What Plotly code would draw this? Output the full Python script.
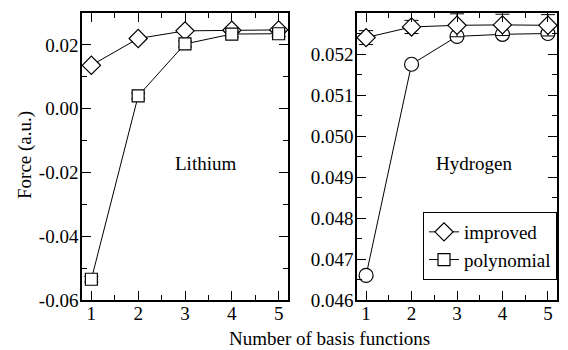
import plotly.graph_objects as go

n_basis = [1, 2, 3, 4, 5]

li_improved = [0.0136, 0.0220, 0.0244, 0.0246, 0.0247]
li_improved_err = [0.0007, 0.0007, 0.0007, 0.0007, 0.0007]
li_poly = [-0.0535, 0.0040, 0.0203, 0.0234, 0.0235]
li_poly_err = [0.0009, 0.0009, 0.0009, 0.0009, 0.0009]

h_improved = [0.05240, 0.05266, 0.05270, 0.05271, 0.05270]
h_improved_err = [0.00017, 0.00016, 0.00028, 0.00026, 0.00026]
h_poly = [0.04660, 0.05175, 0.05243, 0.05248, 0.05250]

font_family = "Liberation Serif"
FS = 19

fig = go.Figure()

def err(arr):
    return dict(type="data", array=arr, visible=True, color="black", thickness=1, width=7)

fig.add_trace(go.Scatter(x=n_basis, y=li_improved, error_y=err(li_improved_err),
                         mode="lines+markers", name="improved",
                         line=dict(color="black", width=1),
                         marker=dict(symbol="diamond", size=14, color="white",
                                     line=dict(color="black", width=1.2)),
                         xaxis="x", yaxis="y", showlegend=True))
fig.add_trace(go.Scatter(x=n_basis, y=li_poly, error_y=err(li_poly_err),
                         mode="lines+markers", name="polynomial",
                         line=dict(color="black", width=1),
                         marker=dict(symbol="square", size=12, color="white",
                                     line=dict(color="black", width=1.2)),
                         xaxis="x", yaxis="y", showlegend=True))
fig.add_trace(go.Scatter(x=n_basis, y=h_poly,
                         mode="lines+markers", name="polynomial",
                         line=dict(color="black", width=1),
                         marker=dict(symbol="circle", size=14, color="white",
                                     line=dict(color="black", width=1.2)),
                         xaxis="x2", yaxis="y2", showlegend=False))
fig.add_trace(go.Scatter(x=n_basis, y=h_improved, error_y=err(h_improved_err),
                         mode="lines+markers", name="improved",
                         line=dict(color="black", width=1),
                         marker=dict(symbol="diamond", size=14, color="white",
                                     line=dict(color="black", width=1.2)),
                         xaxis="x2", yaxis="y2", showlegend=False))

# the page body has an 8px margin, so the figure is sized to fit the window
OFF = 8
W, H = 560, 342

def px(x):
    return (x - OFF) / W

def py(y):
    return 1 - (y - OFF) / H

tickfont = dict(family=font_family, size=FS, color="black")
xcommon = dict(range=[0.8, 5.2], tickvals=[1, 2, 3, 4, 5], ticks="inside", ticklen=9,
               tickwidth=1.2, tickcolor="black", mirror="ticks", showline=True,
               linecolor="black", linewidth=1.5, showgrid=False, zeroline=False,
               automargin=False, tickfont=tickfont, ticklabelstandoff=-5,
               minor=dict(dtick=0.5, ticks="inside", ticklen=5, tickcolor="black", tickwidth=1.2,
                          tick0=0, showgrid=False))
ycommon = dict(ticks="inside", ticklen=9, tickwidth=1.2, tickcolor="black", mirror="ticks",
               showline=True, linecolor="black", linewidth=1.5, showgrid=False, zeroline=False,
               automargin=False, tickfont=tickfont, ticklabelstandoff=-2)

fig.update_layout(
    template="none",
    width=W, height=H, margin=dict(l=0, r=0, t=0, b=0, pad=0, autoexpand=False),
    paper_bgcolor="white", plot_bgcolor="white",
    font=dict(family=font_family, size=FS, color="black"),
    xaxis=dict(domain=[px(82), px(288)], anchor="y", **xcommon),
    yaxis=dict(domain=[py(300), py(13)], anchor="x", range=[-0.06, 0.03],
               tickvals=[-0.06, -0.04, -0.02, 0.0, 0.02],
               ticktext=["-0.06", "-0.04", "-0.02", "0.00", "0.02"],
               minor=dict(dtick=0.01, tick0=0, ticks="inside", ticklen=5, tickcolor="black",
                          tickwidth=1.2, showgrid=False),
               **ycommon),
    xaxis2=dict(domain=[px(357), px(557)], anchor="y2", **xcommon),
    yaxis2=dict(domain=[py(300), py(13)], anchor="x2", range=[0.046, 0.053],
                tickvals=[0.046, 0.047, 0.048, 0.049, 0.050, 0.051, 0.052, 0.053],
                ticktext=["0.046", "0.047", "0.048", "0.049", "0.050", "0.051", "0.052", "0.053"],
                minor=dict(dtick=0.0005, tick0=0.046, ticks="inside", ticklen=5, tickcolor="black",
                           tickwidth=1.2, showgrid=False),
                **ycommon),
    legend=dict(x=px(423), y=py(212), xanchor="left", yanchor="top",
                bgcolor="white", bordercolor="black", borderwidth=1,
                font=dict(family=font_family, size=FS, color="black"),
                itemwidth=30, tracegroupgap=0),
    showlegend=True,
    annotations=[
        dict(text="Lithium", x=px(205), y=py(163), xref="paper", yref="paper",
             xanchor="center", yanchor="middle",
             showarrow=False, font=dict(family=font_family, size=FS)),
        dict(text="Hydrogen", x=px(474), y=py(163), xref="paper", yref="paper",
             xanchor="center", yanchor="middle",
             showarrow=False, font=dict(family=font_family, size=FS)),
        dict(text="Force (a.u.)", x=px(25), y=py(155), xref="paper", yref="paper",
             xanchor="center", yanchor="middle",
             textangle=-90, showarrow=False, font=dict(family=font_family, size=FS)),
        dict(text="Number of basis functions", x=px(329), y=py(338), xref="paper", yref="paper",
             xanchor="center", yanchor="middle",
             showarrow=False, font=dict(family=font_family, size=FS)),
    ],
)

fig.write_html("out.html")
